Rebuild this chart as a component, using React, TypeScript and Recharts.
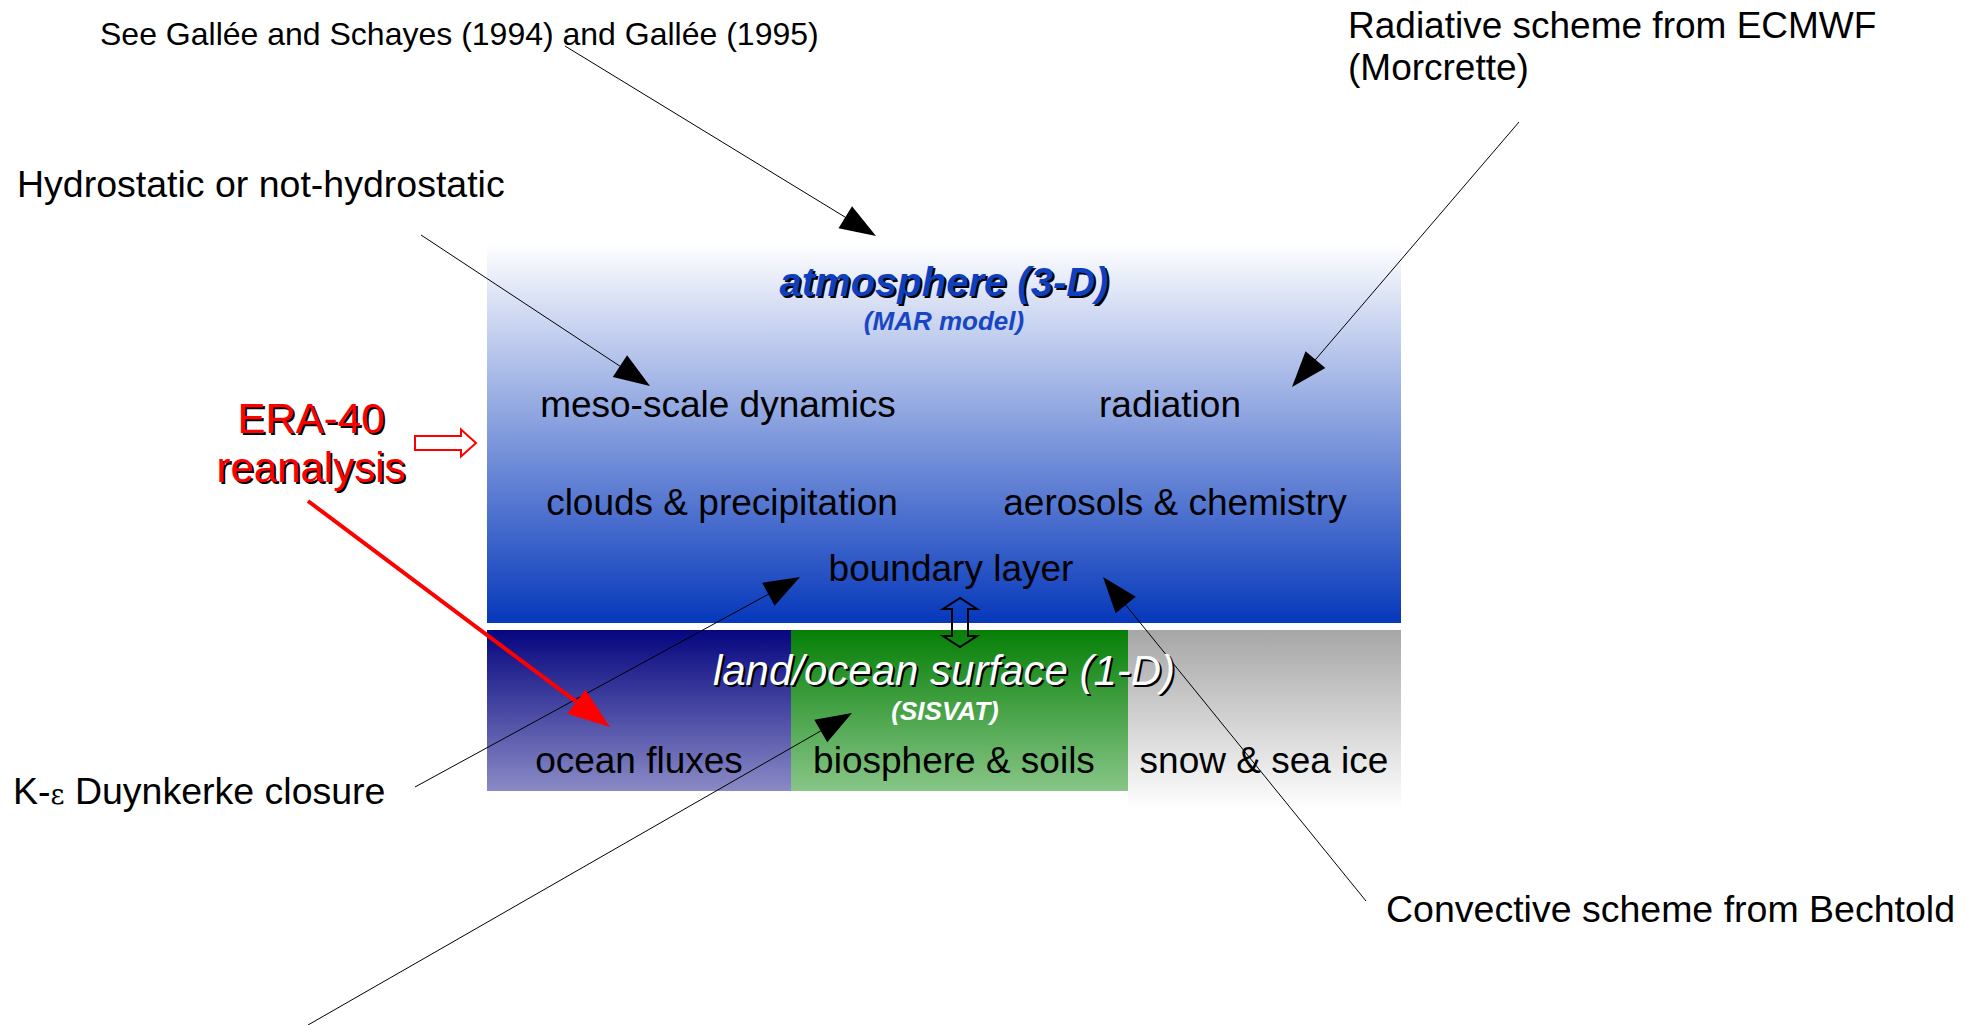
import React from "react";
import { ScatterChart, Scatter, XAxis, YAxis, ReferenceArea, ReferenceLine } from "recharts";

// diagram space: 1 unit per pixel, y grows downwards
const W = 1970;
const H = 1025;

const atmosphereBox = { x1: 487, x2: 1401, y1: 243, y2: 623 };
const surfaceTiles = [
  { id: "oceanFill", x1: 487, x2: 791, y1: 630, y2: 791 },
  { id: "landFill", x1: 791, x2: 1128, y1: 630, y2: 791 },
  { id: "iceFill", x1: 1128, x2: 1401, y1: 630, y2: 810 },
];

// outside annotations
const notes = [
  { x: 100, y: 45, kind: "small", text: "See Gallée and Schayes (1994) and Gallée (1995)" },
  { x: 1348, y: 38, kind: "note", text: "Radiative scheme from ECMWF" },
  { x: 1348, y: 80, kind: "note", text: "(Morcrette)" },
  { x: 17, y: 197, kind: "noteL", text: "Hydrostatic or not-hydrostatic" },
  { x: 13, y: 804, kind: "noteL", text: "K-ε Duynkerke closure" },
  { x: 1386, y: 922, kind: "noteL", text: "Convective scheme from Bechtold" },
  { x: 311, y: 433, kind: "era", text: "ERA-40" },
  { x: 311, y: 482, kind: "era", text: "reanalysis" },
];

// model components
const components = [
  { x: 944, y: 296, kind: "atmTitle", text: "atmosphere (3-D)" },
  { x: 944, y: 330, kind: "atmSub", text: "(MAR model)" },
  { x: 718, y: 417, kind: "proc", text: "meso-scale dynamics" },
  { x: 1170, y: 417, kind: "proc", text: "radiation" },
  { x: 722, y: 515, kind: "proc", text: "clouds & precipitation" },
  { x: 1175, y: 515, kind: "proc", text: "aerosols & chemistry" },
  { x: 951, y: 581, kind: "proc", text: "boundary layer" },
  { x: 944, y: 685, kind: "sfcTitle", text: "land/ocean surface (1-D)" },
  { x: 945, y: 720, kind: "sfcSub", text: "(SISVAT)" },
  { x: 639, y: 773, kind: "proc", text: "ocean fluxes" },
  { x: 954, y: 773, kind: "proc", text: "biosphere & soils" },
  { x: 1264, y: 773, kind: "proc", text: "snow & sea ice" },
];

const pointers = [
  { from: { x: 565, y: 46 }, to: { x: 876, y: 236 } },
  { from: { x: 421, y: 235 }, to: { x: 650, y: 386 } },
  { from: { x: 1519, y: 122 }, to: { x: 1292, y: 387 } },
  { from: { x: 415, y: 787 }, to: { x: 800, y: 577 } },
  { from: { x: 1366, y: 901 }, to: { x: 1103, y: 577 } },
  { from: { x: 308, y: 1025 }, to: { x: 852, y: 713 } },
];
const eraPointer = { from: { x: 308, y: 501 }, to: { x: 610, y: 727 } };
const forcingArrow = { from: { x: 415, y: 443 }, to: { x: 476, y: 443 } };
const couplingArrow = { from: { x: 960, y: 598 }, to: { x: 960, y: 647 } };

const FONT = "'Liberation Sans', Arial, Helvetica, sans-serif";

const styles: Record<string, any> = {
  small: { size: 32, anchor: "start", fill: "#000" },
  note: { size: 37, anchor: "start", fill: "#000" },
  noteL: { size: 37.5, anchor: "start", fill: "#000" },
  proc: { size: 37, anchor: "middle", fill: "#000" },
  era: { size: 42, anchor: "middle", fill: "#ff0000", shadow: true },
  atmTitle: { size: 40, anchor: "middle", fill: "#0d3fbf", weight: "bold", style: "italic", shadow: true },
  atmSub: { size: 26, anchor: "middle", fill: "#1846c4", weight: "bold", style: "italic" },
  sfcTitle: { size: 42, anchor: "middle", fill: "#ffffff", style: "italic", shadow: true },
  sfcSub: { size: 26, anchor: "middle", fill: "#ffffff", weight: "bold", style: "italic" },
};

const textBody = (text: string, size: number) => {
  if (!text.includes("ε")) return text;
  const [a, b] = text.split("ε");
  return (
    <>
      {a}
      <tspan fontFamily="'DejaVu Serif', serif" fontSize={size * 0.72}>ε</tspan>
      {b}
    </>
  );
};

const renderLabel = (props: any) => {
  const { cx, cy, payload } = props;
  if (cx == null || cy == null) return <g />;
  const st = styles[payload.kind];
  const common = {
    textAnchor: st.anchor,
    fontFamily: FONT,
    fontSize: st.size,
    fontWeight: st.weight || "normal",
    fontStyle: st.style || "normal",
  };
  return (
    <g>
      {st.shadow && (
        <text x={cx + 2} y={cy + 2} fill="#000" {...common}>
          {textBody(payload.text, st.size)}
        </text>
      )}
      <text x={cx} y={cy} fill={st.fill} {...common}>
        {textBody(payload.text, st.size)}
      </text>
    </g>
  );
};

const pointerShape = (len: number, half: number, color: string, width: number) => (p: any) => {
  const { x1, y1, x2, y2 } = p;
  const dx = x2 - x1;
  const dy = y2 - y1;
  const d = Math.hypot(dx, dy) || 1;
  const ux = dx / d;
  const uy = dy / d;
  const bx = x2 - ux * len;
  const by = y2 - uy * len;
  const pts = `${x2},${y2} ${bx - uy * half},${by + ux * half} ${bx + uy * half},${by - ux * half}`;
  return (
    <g>
      <line x1={x1} y1={y1} x2={x2 - ux * len * 0.5} y2={y2 - uy * len * 0.5} stroke={color} strokeWidth={width} />
      <polygon points={pts} fill={color} />
    </g>
  );
};

// hollow block arrow; double=true puts a head on both ends
const blockShape = (shaft: number, head: number, len: number, color: string, double: boolean) => (p: any) => {
  const { x1, y1, x2, y2 } = p;
  const dx = x2 - x1;
  const dy = y2 - y1;
  const d = Math.hypot(dx, dy) || 1;
  const ux = dx / d;
  const uy = dy / d;
  const nx = -uy;
  const ny = ux;
  const at = (t: number, s: number) => `${x1 + ux * t + nx * s},${y1 + uy * t + ny * s}`;
  const pts = double
    ? [at(0, 0), at(len, head), at(len, shaft), at(d - len, shaft), at(d - len, head), at(d, 0),
       at(d - len, -head), at(d - len, -shaft), at(len, -shaft), at(len, -head)]
    : [at(0, shaft), at(d - len, shaft), at(d - len, head), at(d, 0), at(d - len, -head),
       at(d - len, -shaft), at(0, -shaft)];
  return <polygon points={pts.join(" ")} fill="none" stroke={color} strokeWidth={2} />;
};

export default function App() {
  return (
    <div style={{ position: "absolute", left: 0, top: 0, width: W, height: H, background: "#fff" }}>
      <ScatterChart width={W} height={H} margin={{ top: 0, right: 0, bottom: 0, left: 0 }}>
        <defs>
          <linearGradient id="atmFill" x1="0" y1="0" x2="0" y2="1">
            <stop offset="0" stopColor="#ffffff" />
            <stop offset="1" stopColor="#0638bb" />
          </linearGradient>
          <linearGradient id="oceanFill" x1="0" y1="0" x2="0" y2="1">
            <stop offset="0" stopColor="#060680" />
            <stop offset="1" stopColor="#8a8ac6" />
          </linearGradient>
          <linearGradient id="landFill" x1="0" y1="0" x2="0" y2="1">
            <stop offset="0" stopColor="#067f06" />
            <stop offset="1" stopColor="#88c688" />
          </linearGradient>
          <linearGradient id="iceFill" x1="0" y1="0" x2="0" y2="1">
            <stop offset="0" stopColor="#a6a6a6" />
            <stop offset="1" stopColor="#ffffff" />
          </linearGradient>
        </defs>
        <XAxis type="number" dataKey="x" domain={[0, W]} hide />
        <YAxis type="number" dataKey="y" domain={[0, H]} reversed hide />
        <ReferenceArea
          x1={atmosphereBox.x1} x2={atmosphereBox.x2} y1={atmosphereBox.y1} y2={atmosphereBox.y2}
          fill="url(#atmFill)" fillOpacity={1} stroke="none" ifOverflow="visible"
        />
        {surfaceTiles.map((t) => (
          <ReferenceArea
            key={t.id} x1={t.x1} x2={t.x2} y1={t.y1} y2={t.y2}
            fill={`url(#${t.id})`} fillOpacity={1} stroke="none" ifOverflow="visible"
          />
        ))}
        <Scatter data={components} shape={renderLabel} isAnimationActive={false} />
        <Scatter data={notes} shape={renderLabel} isAnimationActive={false} />
        <ReferenceLine
          segment={[forcingArrow.from, forcingArrow.to]} ifOverflow="visible"
          shape={blockShape(7, 13.5, 15, "#ff0000", false)}
        />
        <ReferenceLine
          segment={[couplingArrow.from, couplingArrow.to]} ifOverflow="visible"
          shape={blockShape(8, 17, 11, "#000", true)}
        />
        {pointers.map((p, i) => (
          <ReferenceLine
            key={i} segment={[p.from, p.to]} ifOverflow="visible"
            shape={pointerShape(36, 13, "#000", 1)}
          />
        ))}
        <ReferenceLine
          segment={[eraPointer.from, eraPointer.to]} ifOverflow="visible"
          shape={pointerShape(42, 15, "#ff0000", 4)}
        />
      </ScatterChart>
    </div>
  );
}
